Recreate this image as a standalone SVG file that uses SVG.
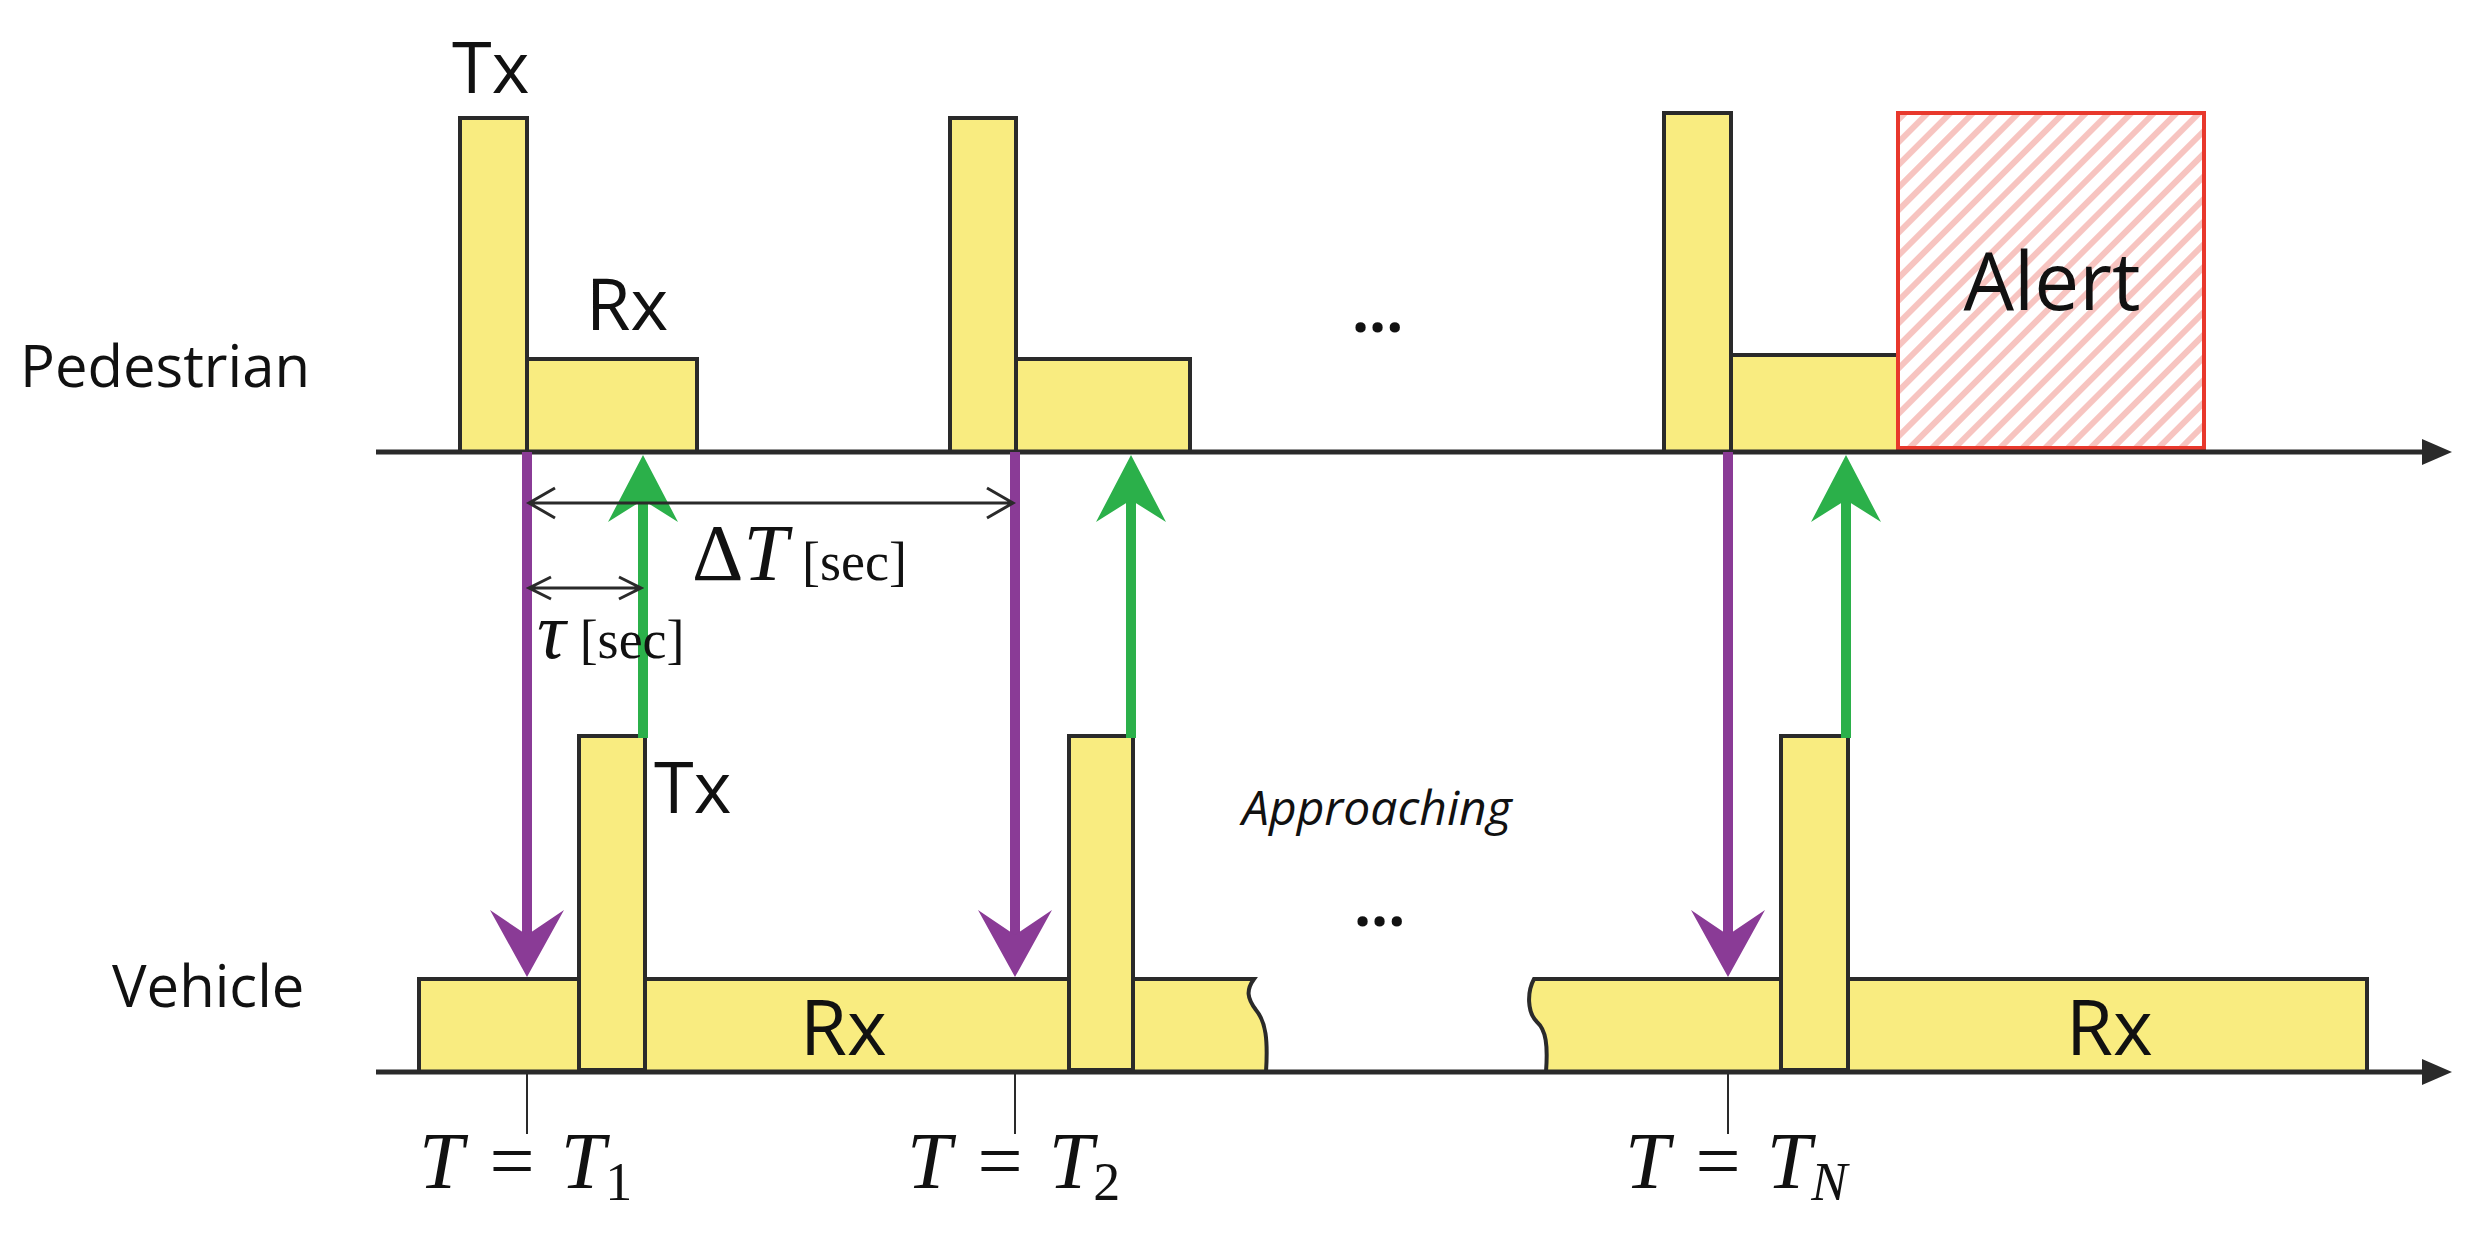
<svg xmlns="http://www.w3.org/2000/svg" width="2476" height="1240" viewBox="0 0 2476 1240">
<style>
.b{fill:#f9ec80;stroke:#2a2a2a;stroke-width:4}
.t{font-family:"Open Sans","Liberation Sans",sans-serif;fill:#111}
.m{font-family:"Liberation Serif",serif;fill:#111}
.ax{stroke:#2a2a2a;stroke-width:5;fill:none}
.pu{stroke:#8a3b96;stroke-width:10;fill:none}
.gr{stroke:#2bb04a;stroke-width:10;fill:none}
.th{stroke:#2a2a2a;stroke-width:2;fill:none}
</style>
<defs>
<pattern id="h" width="16" height="16" patternUnits="userSpaceOnUse" patternTransform="rotate(45)">
<rect width="16" height="16" fill="#fff"/>
<rect width="6" height="16" fill="#f7c4c0"/>
</pattern>
</defs>
<g id="labels">
<text class="t" x="20" y="387" font-size="58">Pedestrian</text>
<text class="t" x="112" y="1007" font-size="58">Vehicle</text>
<text class="t" x="1242" y="825" font-size="48" font-style="italic">Approaching</text>
<text class="t" x="1352" y="332" font-size="60" font-weight="bold">...</text>
<text class="t" x="1354" y="926" font-size="60" font-weight="bold">...</text>
</g>
<g id="pedestrian">
<rect class="b" x="460" y="118" width="67" height="334"/>
<rect class="b" x="527" y="359" width="170" height="93"/>
<text class="t" x="452" y="93" font-size="72">Tx</text>
<text class="t" x="586" y="330" font-size="72">Rx</text>
<rect class="b" x="950" y="118" width="66" height="334"/>
<rect class="b" x="1016" y="359" width="174" height="93"/>
<rect class="b" x="1664" y="113" width="67" height="339"/>
<rect class="b" x="1731" y="355" width="167" height="97"/>
<rect x="1898" y="113" width="306" height="335" fill="url(#h)" stroke="#e8382c" stroke-width="4"/>
<text class="t" x="2052" y="310" font-size="80" text-anchor="middle" fill="#222">Alert</text>
</g>
<g id="vehicle">
<path class="b" d="M419,979 H1254 C1246,990 1247,998 1256,1010 C1266,1022 1268,1040 1266,1072 H419 Z"/>
<path class="b" d="M1534,979 H2367 V1072 H1546 C1548,1045 1546,1030 1537,1022 C1527,1012 1527,992 1534,979 Z"/>
<rect class="b" x="579" y="736" width="66" height="334"/>
<rect class="b" x="1069" y="736" width="64" height="334"/>
<rect class="b" x="1781" y="736" width="67" height="334"/>
<text class="t" x="654" y="813" font-size="72">Tx</text>
<text class="t" x="800" y="1055" font-size="76">Rx</text>
<text class="t" x="2066" y="1055" font-size="76">Rx</text>
</g>
<g id="connectors">
<path class="ax" d="M376,452 H2425"/>
<path d="M2422,439 L2452,452 L2422,465 Z" fill="#2a2a2a"/>
<path class="ax" d="M376,1072 H2425"/>
<path d="M2422,1059 L2452,1072 L2422,1085 Z" fill="#2a2a2a"/>
<path class="th" d="M527,1072 V1134 M1015,1072 V1134 M1728,1072 V1134"/>
<path class="pu" d="M527,452 V960"/>
<path d="M490,910 L527,977 L564,910 L527,935 Z" fill="#8a3b96"/>
<path class="pu" d="M1015,452 V960"/>
<path d="M978,910 L1015,977 L1052,910 L1015,935 Z" fill="#8a3b96"/>
<path class="pu" d="M1728,452 V960"/>
<path d="M1691,910 L1728,977 L1765,910 L1728,935 Z" fill="#8a3b96"/>
<path class="gr" d="M643,738 V475"/>
<path d="M608,522 L643,455 L678,522 L643,500 Z" fill="#2bb04a"/>
<path class="gr" d="M1131,738 V475"/>
<path d="M1096,522 L1131,455 L1166,522 L1131,500 Z" fill="#2bb04a"/>
<path class="gr" d="M1846,738 V475"/>
<path d="M1811,522 L1846,455 L1881,522 L1846,500 Z" fill="#2bb04a"/>
<path d="M529,503 H1013 M555,488 L529,503 L555,518 M987,488 L1013,503 L987,518" stroke="#2a2a2a" stroke-width="3" fill="none"/>
<path d="M529,588 H641 M551,577 L529,588 L551,599 M619,577 L641,588 L619,599" stroke="#2a2a2a" stroke-width="3" fill="none"/>
</g>
<g id="math">
<text class="m" x="692" y="580" font-size="80">Δ<tspan font-style="italic">T</tspan><tspan font-size="54" dx="14">[sec]</tspan></text>
<text class="m" x="537" y="658" font-size="80" font-style="italic">τ<tspan font-size="54" font-style="normal" dx="14">[sec]</tspan></text>
<text class="m" x="419" y="1188" font-size="80"><tspan font-style="italic">T</tspan><tspan dx="26">=</tspan><tspan dx="26" font-style="italic">T</tspan><tspan font-size="54" dy="12">1</tspan></text>
<text class="m" x="907" y="1188" font-size="80"><tspan font-style="italic">T</tspan><tspan dx="26">=</tspan><tspan dx="26" font-style="italic">T</tspan><tspan font-size="54" dy="12">2</tspan></text>
<text class="m" x="1625" y="1188" font-size="80"><tspan font-style="italic">T</tspan><tspan dx="26">=</tspan><tspan dx="26" font-style="italic">T</tspan><tspan font-size="54" font-style="italic" dy="12">N</tspan></text>
</g>
</svg>
